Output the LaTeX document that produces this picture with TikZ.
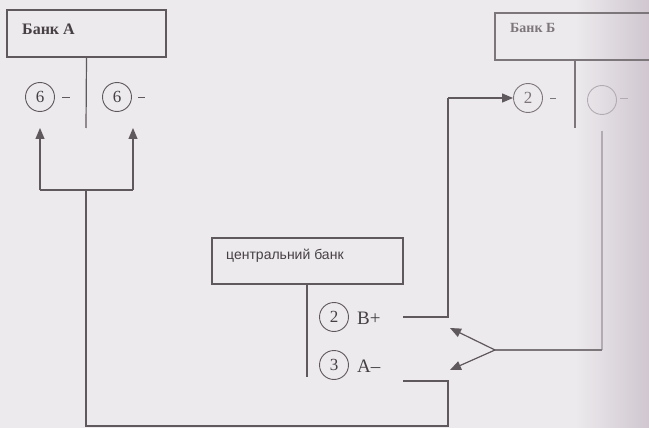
\documentclass[tikz,border=0pt]{standalone}
\usepackage{fontspec}
\setmainfont{Liberation Serif}
\newfontfamily\boxsans{Liberation Sans}
\usetikzlibrary{arrows.meta}
\definecolor{paper}{HTML}{ECEAED}
\definecolor{edgeshade}{HTML}{D0C7D0}
\definecolor{inkc}{HTML}{5F585D}
\definecolor{textc}{HTML}{464045}
\definecolor{fadeink}{HTML}{7C757A}
\definecolor{ghostink}{HTML}{B3ABB2}
\tikzset{
  ink/.style={draw=inkc, line width=1.2pt},
  fade/.style={draw=fadeink, line width=1.2pt},
  ghost/.style={draw=ghostink, line width=1.2pt},
  bankbox/.style={draw=inkc, line width=1.2pt, rectangle, inner sep=0pt},
  num/.style={circle, draw=inkc, line width=0.9pt, minimum size=29pt, inner sep=0pt,
    text=textc, font=\fontsize{17}{17}\selectfont},
  sign/.style={anchor=west, inner sep=0pt, text=textc, font=\fontsize{19}{19}\selectfont},
  tip/.style={-{Triangle[length=11pt,width=9pt]}},
}
\begin{document}
\begin{tikzpicture}[x=1pt,y=-1pt]
  % page and the shadow of the binding on the right
  \fill[paper] (0,0) rectangle (649,428);
  \useasboundingbox (0,0) rectangle (649,428);
  \clip (0,0) rectangle (649,428);
  \shade[left color=paper, right color=edgeshade] (575,0) rectangle (649,428);

  % ---- Bank A ----
  \node[bankbox, minimum width=159pt, minimum height=47pt] (bankA) at (86.5,33.5) {};
  \node[anchor=west, inner sep=0pt, text=textc, font=\bfseries\fontsize{16}{16}\selectfont]
    (bankAtxt) at (22,29) {Банк А};
  \node[num] (a6l) at (40,97) {6};
  \node[num] (a6r) at (117,97) {6};
  \draw[inkc, line width=0.8pt] (62,97) -- (70,97);
  \draw[inkc, line width=0.8pt] (138,97) -- (145,97);
  \coordinate (aStem) at (86,128);
  \draw[ink] (bankA.south) -- (aStem);

  % ---- Bank B ----
  \node[draw=fadeink, line width=1.2pt, rectangle, inner sep=0pt,
        minimum width=170pt, minimum height=47pt] (bankB) at (580,36.5) {};
  \node[anchor=west, inner sep=0pt, text=fadeink, font=\bfseries\fontsize{14}{14}\selectfont]
    (bankBtxt) at (510,28) {Банк Б};
  \node[num, draw=fadeink, text=fadeink] (b2) at (528,98) {2};
  \node[num, draw=ghostink, text=ghostink] (b3) at (602,100) {};
  \draw[fadeink, line width=0.8pt] (550,98) -- (556,98);
  \draw[ghostink, line width=0.8pt] (620,98) -- (628,98);
  \coordinate (bStemTop) at (575,60);
  \coordinate (bStem) at (575,128);
  \draw[fade] (bStemTop) -- (bStem);

  % ---- Central bank ----
  \node[bankbox, minimum width=191pt, minimum height=46pt] (cbank) at (307.5,261) {};
  \node[anchor=west, inner sep=0pt, text=textc, font=\boxsans\fontsize{14}{14}\selectfont]
    (cbanktxt) at (226,256) {центральний банк};
  \coordinate (cStem) at (307,377);
  \draw[ink] (cbank.south -| cStem) -- (cStem);
  \node[num] (c2) at (334,317) {2};
  \node[sign] (cBplus) at (357,318) {B+};
  \node[num] (c3) at (334,365) {3};
  \node[sign] (cAminus) at (357,366) {A–};

  % ---- B+ : central bank credits Bank B ----
  \coordinate (bpStart) at (403,317);
  \coordinate (bpCorner) at (448,317);
  \coordinate (bpTop) at (448,98);
  \draw[ink] (bpStart) -- (bpCorner) -- (bpTop);
  \draw[ink, tip] (bpTop) -- (b2.west);

  % ---- A- : central bank debits Bank A ----
  \coordinate (amStart) at (403,381);
  \coordinate (amCorner) at (448,381);
  \coordinate (amLow) at (448,426);
  \coordinate (amLeft) at (86,426);
  \coordinate (brMid) at (86,190);
  \coordinate (brL) at (40,190);
  \coordinate (brR) at (133,190);
  \draw[ink] (amStart) -- (amCorner) -- (amLow) -- (amLeft) -- (brMid);
  \draw[ink] (brL) -- (brR);
  \coordinate (tipL) at (40,128);
  \coordinate (tipR) at (133,128);
  \draw[ink, tip] (brL) -- (tipL);
  \draw[ink, tip] (brR) -- (tipR);

  % ---- Bank B feeds the central bank ----
  \coordinate (rTop) at (602,131);
  \coordinate (rLow) at (602,350);
  \coordinate (fork) at (495,350);
  \coordinate (forkUp) at (450,328);
  \coordinate (forkDown) at (450,370);
  \draw[ghost] (rTop) -- (rLow);
  \draw[fade] (rLow) -- (fork);
  \draw[ink, tip] (fork) -- (forkUp);
  \draw[ink, tip] (fork) -- (forkDown);
\end{tikzpicture}
\end{document}
